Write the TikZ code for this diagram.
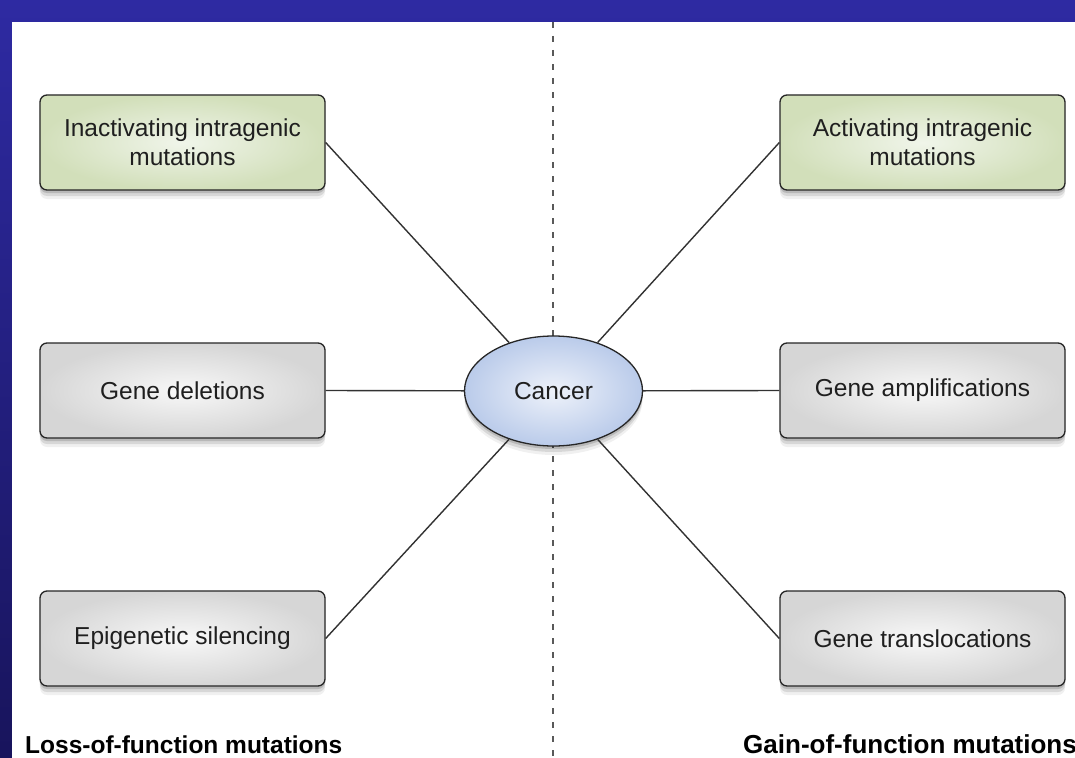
\documentclass[tikz,border=0pt]{standalone}
\usepackage{fontspec}
\setmainfont{Liberation Sans}
\usetikzlibrary{shapes.geometric,shadows}
\definecolor{bgtop}{RGB}{46,42,162}
\definecolor{bgbot}{RGB}{24,20,92}
\definecolor{greenout}{RGB}{210,223,186}
\definecolor{greenin}{RGB}{240,245,234}
\definecolor{grayout}{RGB}{214,214,214}
\definecolor{grayin}{RGB}{248,248,248}
\definecolor{blueout}{RGB}{186,203,234}
\definecolor{bluein}{RGB}{238,242,250}
\definecolor{linecol}{RGB}{50,50,50}
\begin{document}
\begin{tikzpicture}[x=1bp,y=-1bp,
  softshadow/.style={
    general shadow={shadow xshift=0bp, shadow yshift=-3bp, opacity=0.14, fill=black},
    general shadow={shadow xshift=0bp, shadow yshift=-6bp, opacity=0.10, fill=black},
    general shadow={shadow xshift=0bp, shadow yshift=-9bp, opacity=0.06, fill=black}},
  box/.style={draw=black!85, line width=1.3bp, rounded corners=7bp,
    minimum width=285bp, minimum height=95bp, inner sep=0pt, align=center,
    font=\fontsize{24.5bp}{29bp}\selectfont, text=black!88, softshadow},
  greenbox/.style={box, inner color=greenin, outer color=greenout},
  graybox/.style={box, inner color=grayin, outer color=grayout},
  hub/.style={ellipse, draw=black!85, line width=1.3bp, minimum width=178bp,
    minimum height=110bp, inner sep=0pt, inner color=bluein, outer color=blueout,
    font=\fontsize{24.5bp}{29bp}\selectfont, text=black!88, softshadow},
  link/.style={draw=linecol, line width=1.4bp},
  divider/.style={draw=black!65, line width=2bp, dash pattern=on 6bp off 8bp},
  grouplabel/.style={font=\bfseries\fontsize{24.5bp}{29bp}\selectfont, text=black}]
\useasboundingbox (0,0) rectangle (1075,758);
\shade[top color=bgtop, bottom color=bgbot] (0,0) rectangle (1075,758);
\fill[white] (12,22) rectangle (1075,758);

\coordinate (dtop) at (553,22);
\coordinate (dbot) at (553,758);
\draw[divider] (dtop) -- (dbot);

\node[hub] (cancer) at (553.5,391) {Cancer};

\node[greenbox] (inact) at (182.5,142.5) {Inactivating intragenic\\mutations};
\node[graybox] (del) at (182.5,390.5) {Gene deletions};
\node[graybox] (epi) at (182.5,638.5) {Epigenetic silencing};

\node[greenbox] (act) at (922.5,142.5) {Activating intragenic\\mutations};
\node[graybox] (amp) at (922.5,390.5) {Gene amplifications};
\node[graybox] (trans) at (922.5,638.5) {Gene translocations};

\draw[link] (inact.east) -- (cancer);
\draw[link] (del.east) -- (cancer);
\draw[link] (epi.east) -- (cancer);
\draw[link] (act.west) -- (cancer);
\draw[link] (amp.west) -- (cancer);
\draw[link] (trans.west) -- (cancer);

\node[grouplabel, anchor=base west, inner sep=0pt] (loss) at (25,753) {Loss-of-function mutations};
\node[grouplabel, anchor=base west, inner sep=0pt, font=\bfseries\fontsize{26bp}{30bp}\selectfont] (gain) at (743,753) {Gain-of-function mutations};
\end{tikzpicture}
\end{document}
